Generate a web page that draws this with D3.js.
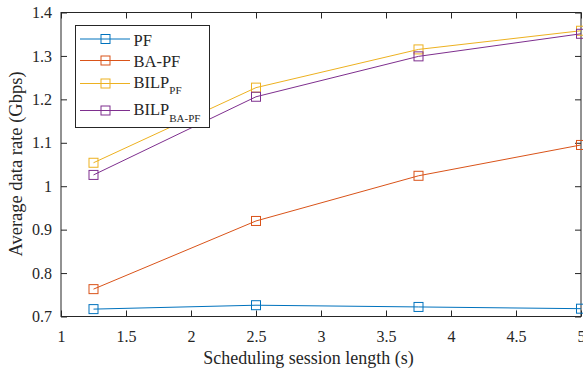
<!DOCTYPE html>
<html>
<head>
<meta charset="utf-8">
<script src="https://cdn.jsdelivr.net/npm/d3@7"></script>
<style>
  body { margin: 0; background: #fff; }
  svg { font-family: "Liberation Serif", "Times New Roman", serif; }
</style>
</head>
<body>
<svg width="583" height="370"></svg>
<script>
const sessionLength = [1.25, 2.5, 3.75, 5];
const pf = [0.717, 0.726, 0.722, 0.718];
const baPf = [0.763, 0.920, 1.024, 1.095];
const bilpPf = [1.054, 1.227, 1.315, 1.358];
const bilpBaPf = [1.026, 1.206, 1.299, 1.351];
const xTicks = [1, 1.5, 2, 2.5, 3, 3.5, 4, 4.5, 5];
const yTicks = [0.7, 0.8, 0.9, 1, 1.1, 1.2, 1.3, 1.4];

const series = [
  {name: "PF", sub: null, values: pf, color: "#0072BD"},
  {name: "BA-PF", sub: null, values: baPf, color: "#D95319"},
  {name: "BILP", sub: "PF", values: bilpPf, color: "#EDB120"},
  {name: "BILP", sub: "BA-PF", values: bilpBaPf, color: "#7E2F8E"}
];

const svg = d3.select("svg");
const margin = {top: 12.5, right: 2, bottom: 53.5, left: 61};
const width = +svg.attr("width") - margin.left - margin.right;
const height = +svg.attr("height") - margin.top - margin.bottom;
const g = svg.append("g").attr("transform", `translate(${margin.left},${margin.top})`);

const x = d3.scaleLinear().domain([1, 5]).range([0, width]);
const y = d3.scaleLinear().domain([0.7, 1.4]).range([height, 0]);
const axisColor = "#262626";

function styleAxis(sel) {
  sel.select(".domain").remove();
  sel.selectAll(".tick line").attr("stroke", axisColor);
  sel.selectAll(".tick text").attr("fill", axisColor).style("font-size", "16px").style("font-family", "Liberation Serif");
}

g.append("g").attr("transform", `translate(0,${height})`)
  .call(d3.axisBottom(x).tickValues(xTicks).tickSize(-6).tickPadding(14).tickFormat(d3.format("")))
  .call(styleAxis);
g.append("g")
  .call(d3.axisTop(x).tickValues(xTicks).tickSize(-6).tickFormat(""))
  .call(styleAxis);
g.append("g")
  .call(d3.axisLeft(y).tickValues(yTicks).tickSize(-6).tickPadding(9).tickFormat(d3.format("")))
  .call(styleAxis);
g.append("g").attr("transform", `translate(${width},0)`)
  .call(d3.axisRight(y).tickValues(yTicks).tickSize(-6).tickFormat(""))
  .call(styleAxis);

g.append("rect")
  .attr("width", width).attr("height", height)
  .attr("fill", "none").attr("stroke", axisColor).attr("stroke-width", 1);

const line = d3.line()
  .x((d, i) => x(sessionLength[i]))
  .y(d => y(d));

const ms = 9;
series.forEach(s => {
  g.append("path")
    .datum(s.values)
    .attr("fill", "none")
    .attr("stroke", s.color)
    .attr("stroke-width", 1)
    .attr("d", line);
  g.selectAll(null)
    .data(s.values)
    .join("rect")
    .attr("x", (d, i) => x(sessionLength[i]) - ms / 2)
    .attr("y", d => y(d) - ms / 2)
    .attr("width", ms).attr("height", ms)
    .attr("fill", "none")
    .attr("stroke", s.color)
    .attr("stroke-width", 1);
});

// legend
const legend = svg.append("g").attr("transform", "translate(75.5,25.5)");
legend.append("rect")
  .attr("width", 134).attr("height", 102)
  .attr("fill", "#fff").attr("stroke", axisColor).attr("stroke-width", 1);
const rowY = [13.5, 35, 58, 85];
const baseY = [20.5, 41.5, 62, 89.5];
series.forEach((s, i) => {
  const ry = rowY[i];
  legend.append("line")
    .attr("x1", 4.5).attr("x2", 54.5).attr("y1", ry).attr("y2", ry)
    .attr("stroke", s.color).attr("stroke-width", 1);
  legend.append("rect")
    .attr("x", 30 - ms / 2).attr("y", ry - ms / 2)
    .attr("width", ms).attr("height", ms)
    .attr("fill", "none").attr("stroke", s.color);
  const t = legend.append("text")
    .attr("x", 58).attr("y", baseY[i])
    .attr("fill", axisColor)
    .style("font-size", "16.5px");
  t.append("tspan").text(s.name);
  if (s.sub) {
    t.append("tspan").attr("dy", 6.5).style("font-size", "11px").text(s.sub);
  }
});

svg.append("text")
  .attr("x", 308.5)
  .attr("y", 363.5)
  .attr("text-anchor", "middle")
  .attr("fill", axisColor)
  .style("font-size", "18px")
  .text("Scheduling session length (s)");

svg.append("text")
  .attr("transform", "translate(21.5,164) rotate(-90)")
  .attr("text-anchor", "middle")
  .attr("fill", axisColor)
  .style("font-size", "18.5px")
  .text("Average data rate (Gbps)");
</script>
</body>
</html>
